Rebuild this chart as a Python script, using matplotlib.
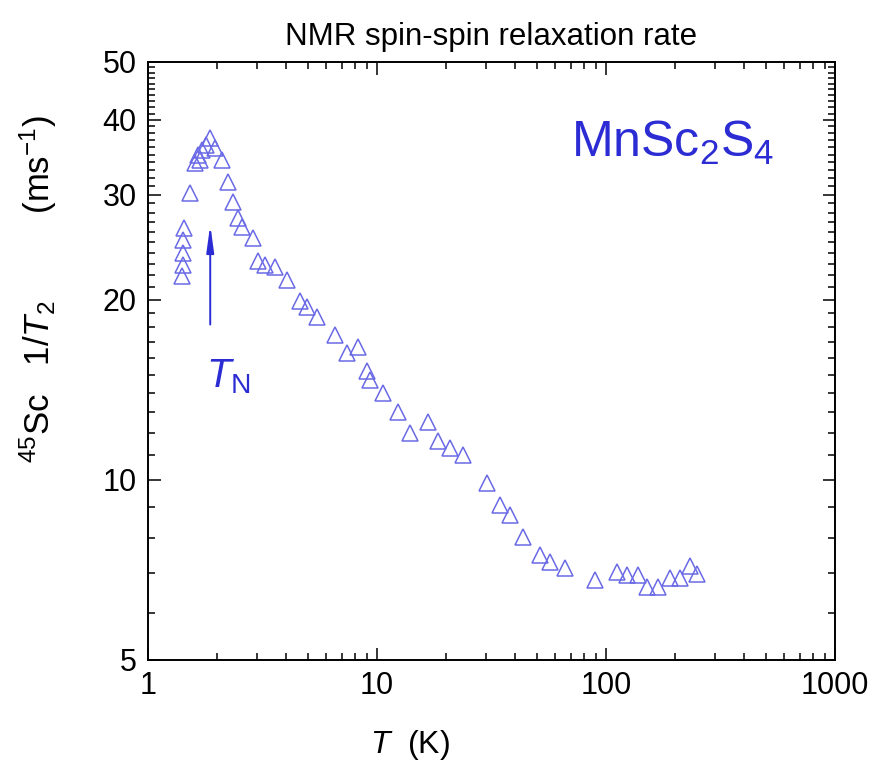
import matplotlib
matplotlib.use("Agg")
import matplotlib.pyplot as plt
from matplotlib.ticker import LogLocator, FixedLocator, NullFormatter, FixedFormatter

plt.rcParams['font.family'] = ['Liberation Sans', 'DejaVu Sans']
plt.rcParams['mathtext.fontset'] = 'custom'
plt.rcParams['mathtext.rm'] = 'Liberation Sans'
plt.rcParams['mathtext.it'] = 'Liberation Sans:italic'

# temperature (K) and 45Sc 1/T2 (ms^-1)
temp = [1.41, 1.42, 1.42, 1.42, 1.44, 1.53, 1.60, 1.65, 1.69, 1.72, 1.79, 1.87,
        1.96, 2.10, 2.24, 2.35, 2.47, 2.57, 2.87, 3.02, 3.24, 3.59, 4.05, 4.61,
        4.95, 5.47, 6.56, 7.40, 8.26, 9.04, 9.32, 10.6, 12.4, 13.9, 16.7, 18.5,
        20.8, 23.7, 30.2, 34.4, 38.1, 43.4, 51.5, 56.9, 66.2, 89.5, 112, 124,
        138, 151, 169, 190, 210, 233, 250]
rate = [21.9, 22.9, 24.0, 25.2, 26.4, 30.2, 33.9, 35.0, 34.3, 35.6, 36.3, 37.3,
        35.9, 34.3, 31.5, 29.2, 27.4, 26.5, 25.4, 23.2, 22.9, 22.7, 21.6, 19.9,
        19.5, 18.7, 17.5, 16.3, 16.7, 15.2, 14.7, 14.0, 13.0, 12.0, 12.5, 11.6,
        11.3, 11.0, 9.88, 9.08, 8.74, 8.03, 7.49, 7.29, 7.12, 6.80, 7.01, 6.94,
        6.94, 6.62, 6.62, 6.85, 6.85, 7.18, 6.96]

y_ticks = [5, 10, 20, 30, 40, 50]
x_ticks = [1, 10, 100, 1000]
t_neel = 1.87

marker_color = '#6a6ae6'
text_blue = '#2c2cd4'

fig = plt.figure(figsize=(8.84, 7.65), dpi=100)
ax = fig.add_axes([0.1674, 0.1373, 0.7772, 0.7817])

ax.plot(temp, rate, linestyle='none', marker='^', markersize=12,
        markerfacecolor='none', markeredgecolor=marker_color, markeredgewidth=1.1)

ax.set_xscale('log')
ax.set_yscale('log')
ax.set_xlim(1, 1000)
ax.set_ylim(5, 50)

ax.xaxis.set_major_locator(FixedLocator(x_ticks))
ax.xaxis.set_major_formatter(FixedFormatter([str(v) for v in x_ticks]))
ax.xaxis.set_minor_locator(LogLocator(base=10, subs=range(2, 10)))
ax.xaxis.set_minor_formatter(NullFormatter())
ax.yaxis.set_major_locator(FixedLocator(y_ticks))
ax.yaxis.set_major_formatter(FixedFormatter([str(v) for v in y_ticks]))
ax.yaxis.set_minor_locator(FixedLocator([v for v in range(6, 50) if v not in y_ticks]))
ax.yaxis.set_minor_formatter(NullFormatter())

ax.tick_params(which='both', direction='in', top=True, right=True, labelsize=22, width=1.1)
ax.tick_params(which='major', length=9, pad=8)
ax.tick_params(which='minor', length=5)
for s in ax.spines.values():
    s.set_linewidth(1.4)

ax.set_title('NMR spin-spin relaxation rate', fontsize=22.5, pad=12)
ax.set_xlabel(r'$T$  (K)', fontsize=23)
ax.xaxis.set_label_coords(0.381, -0.113)
ax.set_ylabel(r'$^{45}$Sc   1/$T_2$         (ms$^{-1}$)', fontsize=25)
ax.yaxis.set_label_coords(-0.13, 0.62)

ax.annotate('', xy=(t_neel, 27.0), xytext=(t_neel, 18.0),
            arrowprops=dict(arrowstyle='-|>,head_length=1.6,head_width=0.22',
                            color=text_blue, lw=1.4))
ax.text(2.25, 14.9, r'$T_\mathrm{N}$', color=text_blue, fontsize=29,
        ha='center', va='center')
ax.text(0.764, 0.841, r'MnSc$_2$S$_4$', color=text_blue, fontsize=36,
        ha='center', va='baseline', transform=ax.transAxes)

fig.savefig('out.png', dpi=100)
